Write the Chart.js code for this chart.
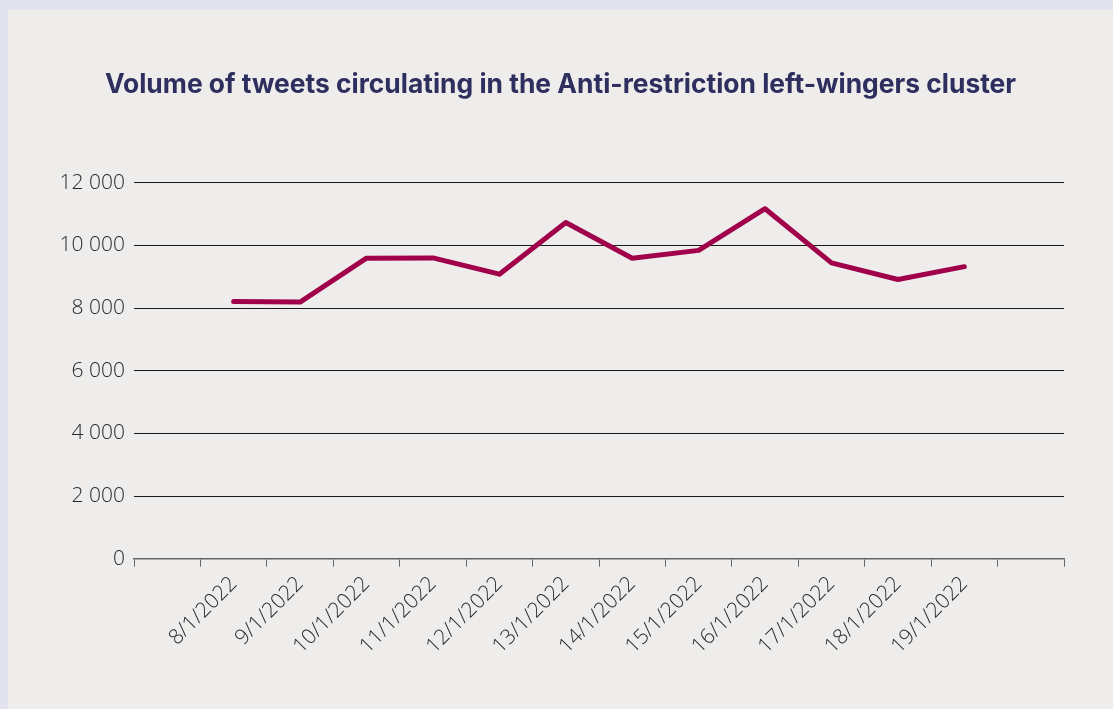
<!DOCTYPE html>
<html>
<head>
<meta charset="utf-8">
<script src="https://cdn.jsdelivr.net/npm/chart.js@4.4.0/dist/chart.umd.min.js"></script>
<style>
    html, body { margin: 0; padding: 0; background: #e3e3ef; }
    #panel { position: absolute; left: 8px; top: 10px; width: 1105px; height: 699px; background: #eeedec; }
    #tweetsChart { display: block; }
</style>
</head>
<body>
<div id="panel"><canvas id="tweetsChart" width="1105" height="699"></canvas></div>
<script>
// categories (blank slot at both ends, like the original)
const labels = ['', '8/1/2022', '9/1/2022', '10/1/2022', '11/1/2022', '12/1/2022', '13/1/2022',
    '14/1/2022', '15/1/2022', '16/1/2022', '17/1/2022', '18/1/2022', '19/1/2022', ''];
const tweets = [null, 8210, 8190, 9590, 9600, 9080, 10730, 9590, 9840, 11170, 9440, 8910, 9320, null];
const yTicks = [0, 2000, 4000, 6000, 8000, 10000, 12000];

const titleText = 'Volume of tweets circulating in the Anti-restriction left-wingers cluster';

function fmt(v) {
    return String(v).replace(/\B(?=(\d{3})+(?!\d))/g, ' ');
}

document.addEventListener('DOMContentLoaded', function () {
    const ctx = document.getElementById('tweetsChart').getContext('2d');

    new Chart(ctx, {
        type: 'line',
        data: {
            labels: labels,
            datasets: [{
                label: 'Tweets',
                data: tweets,
                borderColor: '#a1004b',
                borderWidth: 5,
                borderCapStyle: 'round',
                borderJoinStyle: 'round',
                pointRadius: 0,
                tension: 0,
                spanGaps: false
            }]
        },
        options: {
            responsive: false,
            animation: false,
            layout: { padding: { top: 8, right: 49, bottom: 45, left: 49 } },
            plugins: {
                legend: { display: false },
                tooltip: { enabled: false },
                title: {
                    display: true,
                    text: titleText,
                    color: '#2e2f5e',
                    font: { family: 'Inter', size: 26.4, weight: 700 },
                    padding: { top: 51, bottom: 82 }
                }
            },
            scales: {
                x: {
                    offset: true,
                    grid: {
                        offset: true,
                        drawOnChartArea: false,
                        drawTicks: true,
                        tickLength: 8,
                        color: '#666'
                    },
                    border: { color: '#666', width: 1.5 },
                    ticks: {
                        autoSkip: false,
                        maxRotation: 45,
                        minRotation: 45,
                        color: '#2a2a2a',
                        padding: 5,
                        font: { family: 'Open Sans', size: 21, weight: 300 }
                    }
                },
                y: {
                    min: 0,
                    max: 12000,
                    afterFit: function (scale) { scale.width = 77; },
                    afterBuildTicks: function (scale) {
                        scale.ticks = yTicks.map(v => ({ value: v }));
                    },
                    grid: { color: '#1a1a1a', lineWidth: 1, drawTicks: false },
                    border: { display: false },
                    ticks: {
                        padding: 9,
                        color: '#2a2a2a',
                        font: { family: 'Open Sans', size: 21, weight: 300 },
                        callback: function (v) { return fmt(v); }
                    }
                }
            }
        }
    });
});
</script>
</body>
</html>
